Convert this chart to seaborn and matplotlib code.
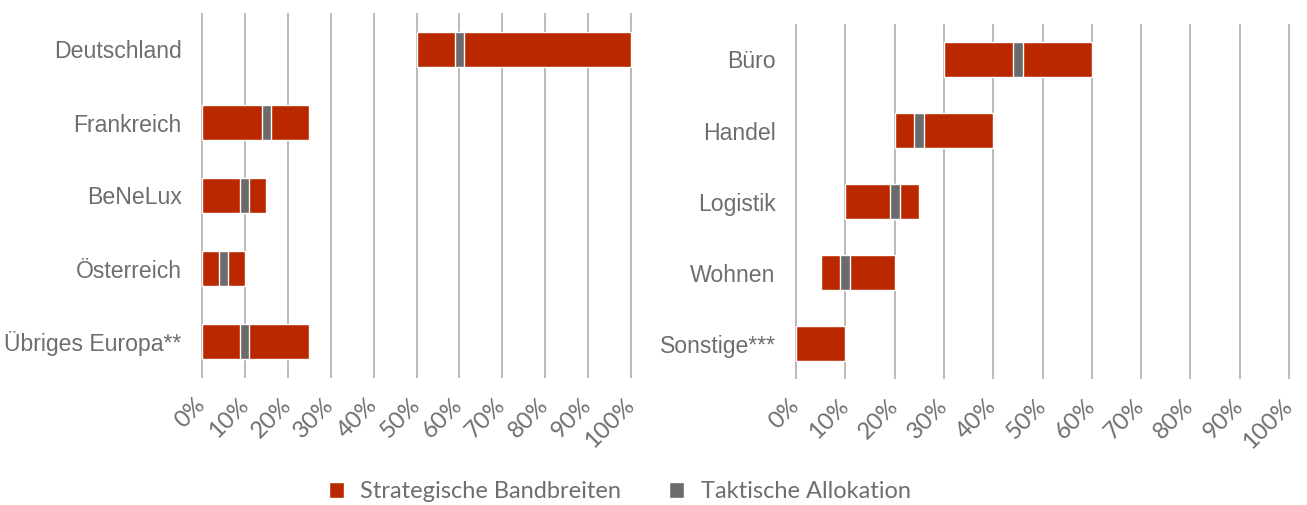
import numpy as np
import pandas as pd
import matplotlib
matplotlib.use("Agg")
import matplotlib.pyplot as plt
import matplotlib.font_manager as fm
import seaborn as sns
from matplotlib.patches import Patch

# -------- Data --------
regions = ["Deutschland", "Frankreich", "BeNeLux", "Österreich", "Übriges Europa**"]
region_lo = [50, 0, 0, 0, 0]
region_hi = [100, 25, 15, 10, 25]
region_tact_lo = [59, 14, 9, 4, 9]
region_tact_hi = [61, 16, 11, 6, 11]

sectors = ["Büro", "Handel", "Logistik", "Wohnen", "Sonstige***"]
sector_lo = [30, 20, 10, 5, 0]
sector_hi = [60, 40, 25, 20, 10]
sector_tact_lo = [44, 24, 19, 9, np.nan]
sector_tact_hi = [46, 26, 21, 11, np.nan]

ticks = list(range(0, 101, 10))
tick_labels = [f"{t}%" for t in ticks]

RED = "#BA2800"
GREY = "#6B6B6B"
TEXT = "#6E6E6E"
GRID = "#B4B4B4"

sns.set_theme(style="white")
plt.rcParams["font.family"] = ["Liberation Sans", "DejaVu Sans"]

# pick the regular (not narrow) Liberation Sans file for the category labels
lib_files = [f for f in fm.findSystemFonts() if f.endswith("LiberationSans-Regular.ttf")]
if lib_files:
    cat_font = fm.FontProperties(fname=lib_files[0], size=16.6)
else:
    cat_font = fm.FontProperties(family="DejaVu Sans", size=15)

fig = plt.figure(figsize=(13.07, 5.05), dpi=100)
W, H = 1307, 505

# axes boxes in pixels: left, top, right, bottom
boxes = [(201, 13, 632, 378), (795, 24, 1290, 379)]
panels = [
    pd.DataFrame({"cat": regions, "lo": region_lo, "hi": region_hi,
                  "tlo": region_tact_lo, "thi": region_tact_hi}),
    pd.DataFrame({"cat": sectors, "lo": sector_lo, "hi": sector_hi,
                  "tlo": sector_tact_lo, "thi": sector_tact_hi}),
]

for (l, t, r, b), df in zip(boxes, panels):
    ax = fig.add_axes([l / W, 1 - b / H, (r - l) / W, (b - t) / H])
    y = np.arange(len(df))
    ax.barh(y, df["hi"] - df["lo"], left=df["lo"], height=0.49,
            color=RED, zorder=2)
    tact = df.dropna()
    ax.barh(tact.index, tact["thi"] - tact["tlo"], left=tact["tlo"],
            height=0.49, color=GREY, zorder=3)

    ax.set_xlim(-0.2, 100.2)
    ax.set_ylim(len(df) - 0.5, -0.5)
    ax.set_yticks(y)
    ax.set_yticklabels(df["cat"], fontproperties=cat_font, color=TEXT)
    ax.set_xticks(ticks)
    ax.set_xticklabels(tick_labels, fontsize=17, color=TEXT, rotation=45,
                       ha="right", va="center", rotation_mode="anchor",
                       family=["Lato", "DejaVu Sans"])
    ax.tick_params(axis="y", length=0, pad=14)
    ax.tick_params(axis="x", length=0, pad=17)
    ax.grid(axis="x", color=GRID, linewidth=1.3, zorder=0)
    ax.grid(axis="y", visible=False)
    ax.set_axisbelow(True)
    for s in ax.spines.values():
        s.set_visible(False)

handles = [Patch(facecolor=RED, label="Strategische Bandbreiten"),
           Patch(facecolor=GREY, label="Taktische Allokation")]
leg = fig.legend(handles=handles, loc="center", bbox_to_anchor=(0.474, 0.026),
                 ncol=2, frameon=False, handlelength=0.65, handleheight=0.65,
                 handletextpad=0.7, columnspacing=2.0,
                 prop={"family": ["Lato", "DejaVu Sans"], "size": 17})
for txt in leg.get_texts():
    txt.set_color(TEXT)

fig.savefig("out.png", dpi=100)
